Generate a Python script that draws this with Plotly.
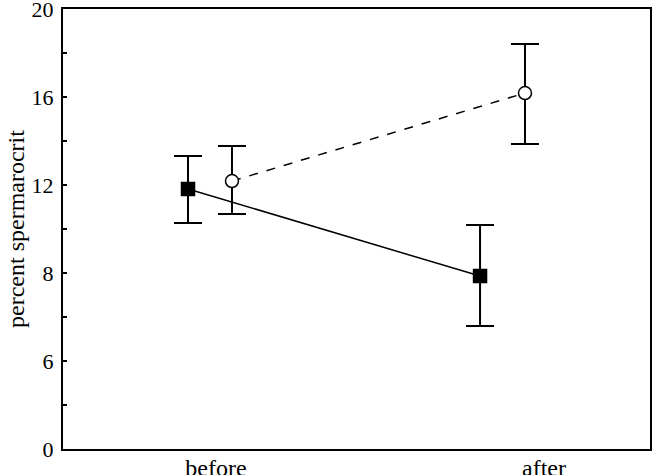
import plotly.graph_objects as go

# group positions on the x axis
group_labels = ["before", "after"]
group_pos = [1, 2]

# filled squares (solid line)
sq_x = [0.915, 1.805]
sq_y = [11.82, 7.86]
sq_hi = [13.32, 10.18]
sq_lo = [10.27, 5.59]

# open circles (dashed line)
ci_x = [1.049, 1.942]
ci_y = [12.18, 16.18]
ci_hi = [13.77, 18.41]
ci_lo = [10.68, 13.86]

# y tick labels as printed in the figure
y_tickvals = [0, 4, 8, 12, 16, 20]
y_ticktext = ["0", "6", "8", "12", "16", "20"]

FONT = "Liberation Serif, Times New Roman, serif"


def build_series(x, y, hi, lo, dash, symbol, fill):
    return go.Scatter(
        x=x,
        y=y,
        mode="lines+markers",
        line=dict(color="black", width=1.5, dash=dash),
        marker=dict(symbol=symbol, size=13, color=fill,
                    line=dict(color="black", width=1.5)),
        error_y=dict(
            type="data",
            symmetric=False,
            array=[h - v for h, v in zip(hi, y)],
            arrayminus=[v - l for l, v in zip(lo, y)],
            color="black",
            thickness=2,
            width=14,
        ),
        showlegend=False,
    )


fig = go.Figure()
fig.add_trace(build_series(sq_x, sq_y, sq_hi, sq_lo, "solid", "square", "black"))
fig.add_trace(build_series(ci_x, ci_y, ci_hi, ci_lo, "dash", "circle", "white"))

fig.update_xaxes(
    range=[0.534, 2.323],
    tickvals=group_pos,
    ticktext=group_labels,
    ticks="",
    showgrid=False,
    zeroline=False,
    showline=True,
    linecolor="black",
    linewidth=2,
    mirror=True,
    automargin=False,
    ticklabeloverflow="allow",
    ticklabelstandoff=-4,
    tickfont=dict(family=FONT, size=24, color="black"),
)
fig.update_yaxes(
    range=[0, 20],
    tickvals=y_tickvals,
    ticktext=y_ticktext,
    ticks="inside",
    ticklen=4,
    tickwidth=1.5,
    tickcolor="black",
    minor=dict(tickmode="linear", tick0=0, dtick=2, ticks="inside",
               ticklen=4, tickwidth=1.5, tickcolor="black"),
    showgrid=False,
    zeroline=False,
    showline=True,
    linecolor="black",
    linewidth=2,
    mirror=True,
    automargin=False,
    ticklabeloverflow="allow",
    ticklabelstandoff=3,
    tickfont=dict(family=FONT, size=22, color="black"),
    title=dict(text="percent spermarocrit", standoff=0,
               font=dict(family=FONT, size=24, color="black")),
)

fig.update_layout(
    width=652,
    height=475,
    margin=dict(l=63, r=2, t=9, b=26),
    plot_bgcolor="white",
    paper_bgcolor="white",
)

# drop the default body margin so the figure fills the window
fig.write_html(
    "out.html",
    config={"displayModeBar": False},
    post_script="document.body.style.margin='0';",
)
